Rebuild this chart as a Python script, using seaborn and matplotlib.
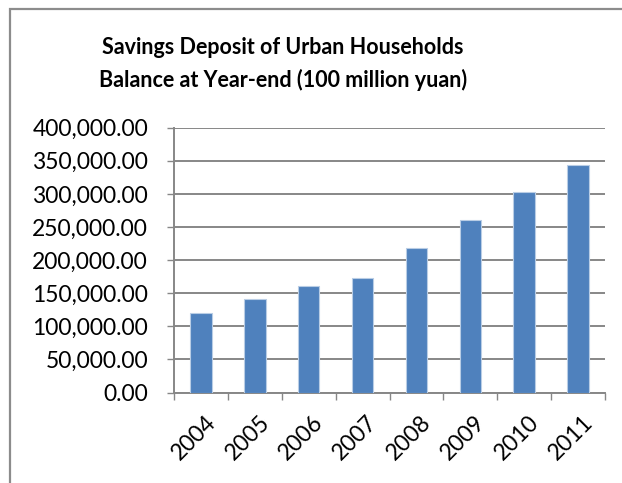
import matplotlib
matplotlib.use("Agg")
import matplotlib.pyplot as plt
from matplotlib.patches import Rectangle
from matplotlib.ticker import FuncFormatter, MultipleLocator, FixedLocator
from matplotlib.transforms import ScaledTranslation
import seaborn as sns
import pandas as pd

# Year-end savings deposit balance of urban households (100 million yuan)
years = ["2004", "2005", "2006", "2007", "2008", "2009", "2010", "2011"]
balances = [119555, 141051, 161587, 172534, 217885, 260772, 303302, 343636]
title_lines = ["Savings Deposit of Urban Households",
               "Balance at Year-end (100 million yuan)"]

df = pd.DataFrame({"year": years, "balance": balances})

sns.set_theme(style="white")
plt.rcParams["font.family"] = ["Lato", "DejaVu Sans"]

W, H = 622, 483
PT = 72 / 100  # points per pixel at 100 dpi
fig = plt.figure(figsize=(W / 100, H / 100), dpi=100)
ax = fig.add_axes([174 / W, 1 - 392.6 / H, (605 - 174) / W, (392.6 - 127.7) / H])

grid_c = "#878787"
bar_c = "#4F81BD"

sns.barplot(data=df, x="year", y="balance", color=bar_c, width=0.4,
            saturation=1, edgecolor="#B9CDE5", linewidth=0.8, ax=ax, zorder=3)

ax.set_xlim(-0.5, len(years) - 0.5)
ax.set_ylim(0, 400000)
ax.yaxis.set_major_locator(MultipleLocator(50000))
ax.yaxis.set_major_formatter(FuncFormatter(lambda v, _: f"{v:,.2f}"))
ax.grid(axis="y", color=grid_c, linewidth=1.4, zorder=0)
ax.set_axisbelow(True)

for side in ("top", "right"):
    ax.spines[side].set_visible(False)
for side in ("left", "bottom"):
    ax.spines[side].set_color(grid_c)
    ax.spines[side].set_linewidth(1.4)

ax.set_xlabel("")
ax.set_ylabel("")

label_size = 16.5

# category boundary ticks on the x axis, labels at centers
ax.xaxis.set_minor_locator(FixedLocator([i - 0.5 for i in range(len(years) + 1)]))
ax.tick_params(axis="x", which="minor", bottom=True, length=7 * PT, width=1.4 * PT,
               color=grid_c)
ax.tick_params(axis="x", which="major", bottom=True, length=0, pad=19 * PT,
               labelsize=label_size, labelcolor="black")
ax.tick_params(axis="y", which="major", left=True, length=7 * PT, width=1.4 * PT,
               color=grid_c, pad=19 * PT, labelsize=label_size, labelcolor="black")
shift = ScaledTranslation(4 / 100, 0, fig.dpi_scale_trans)
for lab in ax.get_xticklabels():
    lab.set_rotation(45)
    lab.set_ha("right")
    lab.set_va("top")
    lab.set_rotation_mode("anchor")
    lab.set_transform(lab.get_transform() + shift)

fig.text(283 / W, 1 - 47 / H, title_lines[0], ha="center", va="center",
         fontsize=15.5, fontweight="bold", color="black")
fig.text(283 / W, 1 - 80 / H, title_lines[1], ha="center", va="center",
         fontsize=15.5, fontweight="bold", color="black")

# chart frame
fig.patches.append(Rectangle((10 / W, -0.2), 1.2, 1.2 - 9 / H,
                             transform=fig.transFigure, fill=False,
                             edgecolor="#8C8C8C", linewidth=1.6, zorder=0))

fig.savefig("out.png", dpi=100)
